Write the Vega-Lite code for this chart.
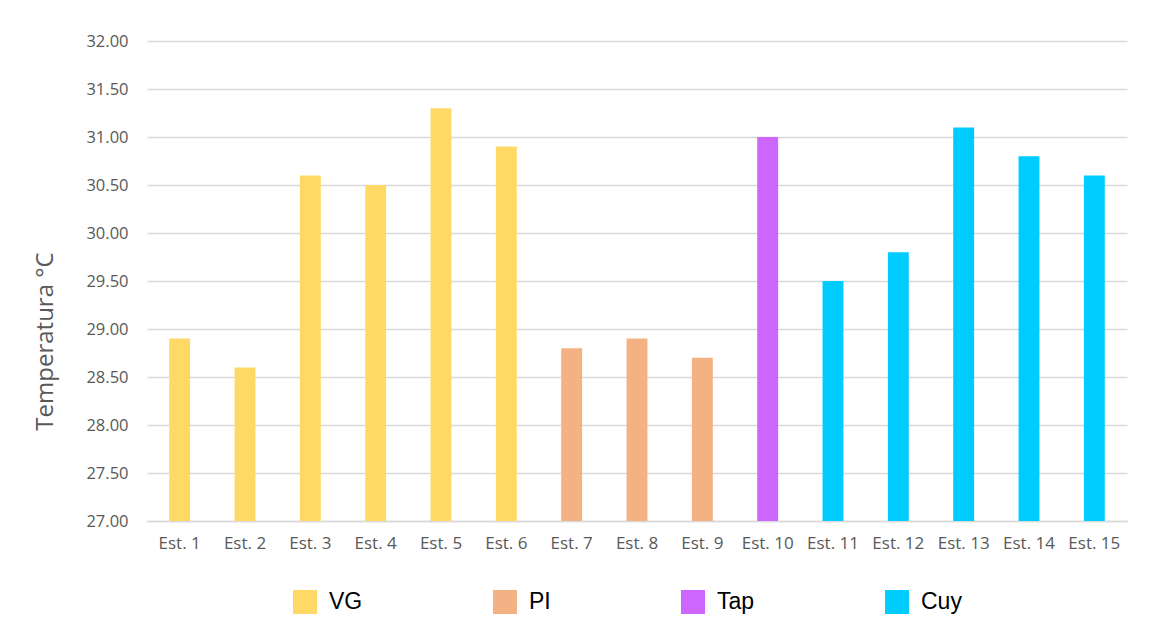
{
  "$schema": "https://vega.github.io/schema/vega-lite/v6.json",
  "width": 980,
  "height": 480,
  "autosize": {"type": "none"},
  "padding": {"left": 147, "top": 41, "right": 42, "bottom": 119},
  "background": "white",
  "data": {
    "values": [
      {"estacion": "Est. 1", "grupo": "VG", "temperatura": 28.9},
      {"estacion": "Est. 2", "grupo": "VG", "temperatura": 28.6},
      {"estacion": "Est. 3", "grupo": "VG", "temperatura": 30.6},
      {"estacion": "Est. 4", "grupo": "VG", "temperatura": 30.5},
      {"estacion": "Est. 5", "grupo": "VG", "temperatura": 31.3},
      {"estacion": "Est. 6", "grupo": "VG", "temperatura": 30.9},
      {"estacion": "Est. 7", "grupo": "PI", "temperatura": 28.8},
      {"estacion": "Est. 8", "grupo": "PI", "temperatura": 28.9},
      {"estacion": "Est. 9", "grupo": "PI", "temperatura": 28.7},
      {"estacion": "Est. 10", "grupo": "Tap", "temperatura": 31.0},
      {"estacion": "Est. 11", "grupo": "Cuy", "temperatura": 29.5},
      {"estacion": "Est. 12", "grupo": "Cuy", "temperatura": 29.8},
      {"estacion": "Est. 13", "grupo": "Cuy", "temperatura": 31.1},
      {"estacion": "Est. 14", "grupo": "Cuy", "temperatura": 30.8},
      {"estacion": "Est. 15", "grupo": "Cuy", "temperatura": 30.6}
    ]
  },
  "mark": {"type": "bar"},
  "encoding": {
    "x": {
      "field": "estacion",
      "type": "nominal",
      "sort": null,
      "scale": {"paddingInner": 0.68, "paddingOuter": 0.34},
      "axis": {
        "title": null,
        "labelAngle": 0,
        "labelFont": "Open Sans",
        "labelFontSize": 17,
        "labelColor": "#595959",
        "labelPadding": 14,
        "ticks": false,
        "domainColor": "#d9d9d9",
        "domainWidth": 1.5,
        "grid": false
      }
    },
    "y": {
      "field": "temperatura",
      "type": "quantitative",
      "scale": {"domain": [27, 32], "zero": false, "nice": false},
      "axis": {
        "title": "Temperatura °C",
        "titleFont": "Open Sans",
        "titleFontSize": 24,
        "titleFontWeight": "normal",
        "titleColor": "#595959",
        "titleX": -102,
        "titleY": 300,
        "titleBaseline": "middle",
        "values": [27, 27.5, 28, 28.5, 29, 29.5, 30, 30.5, 31, 31.5, 32],
        "format": ".2f",
        "labelFont": "Open Sans",
        "labelFontSize": 16.5,
        "labelColor": "#595959",
        "labelPadding": 19,
        "ticks": false,
        "domain": false,
        "grid": true,
        "gridColor": "#d9d9d9",
        "gridWidth": 1.5
      }
    },
    "y2": {"datum": 27},
    "color": {
      "field": "grupo",
      "type": "nominal",
      "scale": {
        "domain": ["VG", "PI", "Tap", "Cuy"],
        "range": ["#FFD966", "#F4B183", "#CC66FF", "#00CCFF"]
      },
      "legend": {
        "title": null,
        "orient": "none",
        "direction": "horizontal",
        "legendX": 146,
        "legendY": 549,
        "symbolType": "square",
        "symbolSize": 576,
        "symbolStrokeWidth": 0,
        "labelFont": "Liberation Sans",
        "labelFontSize": 23,
        "labelColor": "#000000",
        "labelOffset": 12,
        "columnPadding": 130
      }
    }
  },
  "config": {"view": {"stroke": null}}
}
